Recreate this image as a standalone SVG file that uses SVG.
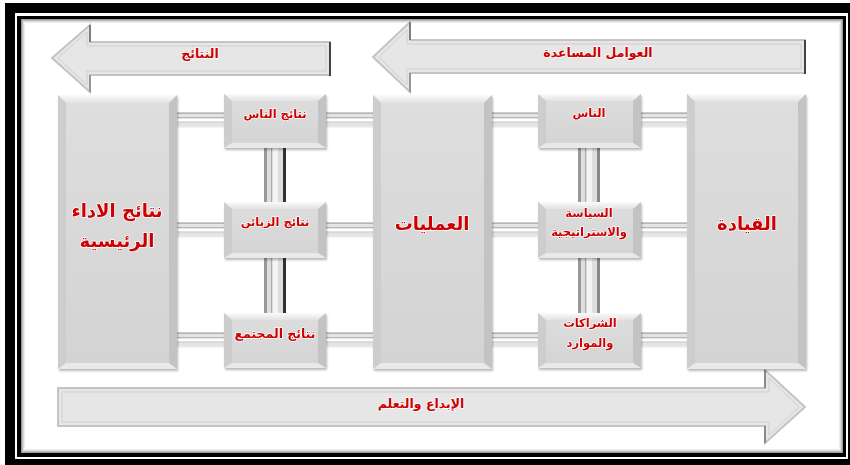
<svg xmlns="http://www.w3.org/2000/svg" width="850" height="465" viewBox="0 0 850 465">
<defs>
<linearGradient id="gFace" x1="0" y1="0" x2="0" y2="1"><stop offset="0" stop-color="#dedede"/><stop offset="1" stop-color="#d3d3d3"/></linearGradient>
<linearGradient id="gTop" x1="0" y1="0" x2="0" y2="1"><stop offset="0" stop-color="#fbfbfb"/><stop offset="1" stop-color="#e2e2e2"/></linearGradient>
<filter id="sh" x="-10%" y="-10%" width="130%" height="130%"><feDropShadow dx="1" dy="2" stdDeviation="1.2" flood-color="#000" flood-opacity="0.28"/></filter>
<style>
.face{fill:url(#gFace)}
.bt{fill:url(#gTop)}
.bl{fill:#cdcdcd}
.br{fill:#c3c3c3}
.bb{fill:#e9e9e9}
.lbl{font-family:"DejaVu Sans",sans-serif;font-weight:bold;fill:#cc0000;text-anchor:middle;dominant-baseline:central;stroke:#ffffff;stroke-width:1.4;paint-order:stroke;stroke-linejoin:round}
.big{font-size:18px}
.sm{font-size:11.5px}
.al{font-size:12.5px}
.arr{fill:#e6e6e6;stroke:#c4c4c4;stroke-width:2}
.arrIn{fill:none;stroke:#cfcfcf;stroke-width:1}
.hb{fill:#e4e4e4}
.hl{fill:#b5b5b5}
.hw{fill:#ffffff}
</style>
</defs>
<!-- frame -->
<rect x="5" y="3" width="845" height="462" fill="#000"/>
<rect x="15" y="13" width="833" height="446" fill="#fff"/>
<rect x="17" y="16" width="829" height="441" fill="#000"/>
<rect x="21" y="19" width="822" height="434" fill="#fff"/>
<rect x="21.5" y="19.5" width="821" height="433" fill="none" stroke="#9a9a9a" stroke-width="1"/>
<rect x="22.5" y="20.5" width="819" height="431" fill="none" stroke="#bdbdbd" stroke-width="1"/>
<rect x="23.5" y="21.5" width="817" height="429" fill="none" stroke="#dadada" stroke-width="1"/>
<rect x="24.5" y="22.5" width="815" height="427" fill="none" stroke="#eeeeee" stroke-width="1"/>

<!-- arrows -->
<g id="arrow_results">
<polygon class="arr" points="52,58 90,25 90,42 330,42 330,75 90,75 90,92"/>
<polygon class="arrIn" points="58,58 87,32 87,46 326,46 326,71 87,71 87,85"/>
<line x1="330" y1="42" x2="330" y2="76" stroke="#444" stroke-width="2"/>
<line x1="90" y1="25" x2="90" y2="42" stroke="#666" stroke-width="1.5"/>
<line x1="90" y1="75" x2="90" y2="92" stroke="#888" stroke-width="1.5"/>
<text class="lbl al" x="200" y="53">النتائج</text>
</g>
<g id="arrow_enablers">
<polygon class="arr" points="373,57 410,22 410,40 805,40 805,73 410,73 410,92"/>
<polygon class="arrIn" points="379,57 407,30 407,44 801,44 801,69 407,69 407,85"/>
<line x1="805" y1="40" x2="805" y2="74" stroke="#444" stroke-width="2"/>
<line x1="410" y1="22" x2="410" y2="40" stroke="#666" stroke-width="1.5"/>
<line x1="410" y1="73" x2="410" y2="92" stroke="#888" stroke-width="1.5"/>
<text class="lbl al" x="598" y="52">العوامل المساعدة</text>
</g>
<g id="arrow_innovation">
<polygon class="arr" points="58,388 765,388 765,370 805,407 765,443 765,426 58,426"/>
<polygon class="arrIn" points="62,392 769,392 769,378 799,407 769,435 769,422 62,422"/>
<line x1="765" y1="370" x2="765" y2="388" stroke="#777" stroke-width="1.5"/>
<line x1="765" y1="426" x2="765" y2="443" stroke="#777" stroke-width="1.5"/>
<text class="lbl al" x="421" y="403">الإبداع والتعلم</text>
</g>

<!-- connectors -->
<g id="connectors">
<g id="h1"><rect class="hb" x="177" y="112" width="510" height="16"/><rect class="hl" x="177" y="112.5" width="510" height="1.5"/><rect class="hl" x="177" y="117" width="510" height="1.5"/><rect class="hw" x="177" y="118.5" width="510" height="3"/><rect fill="#d0d0d0" x="177" y="121.5" width="510" height="1.2"/><rect fill="#f2f2f2" x="177" y="126.5" width="510" height="1.5"/></g>
<g id="h2"><rect class="hb" x="177" y="222" width="510" height="16"/><rect class="hl" x="177" y="222.5" width="510" height="1.5"/><rect class="hl" x="177" y="227" width="510" height="1.5"/><rect class="hw" x="177" y="228.5" width="510" height="3"/><rect fill="#d0d0d0" x="177" y="231.5" width="510" height="1.2"/><rect fill="#f2f2f2" x="177" y="236.5" width="510" height="1.5"/></g>
<g id="h3"><rect class="hb" x="177" y="332" width="510" height="16"/><rect class="hl" x="177" y="332.5" width="510" height="1.5"/><rect class="hl" x="177" y="337" width="510" height="1.5"/><rect class="hw" x="177" y="338.5" width="510" height="3"/><rect fill="#d0d0d0" x="177" y="341.5" width="510" height="1.2"/><rect fill="#f2f2f2" x="177" y="346.5" width="510" height="1.5"/></g>
<g id="v1"><rect x="264" y="148" width="22" height="165" fill="#dedede"/><rect x="264" y="148" width="3" height="165" fill="#999"/><rect x="271" y="148" width="1.5" height="165" fill="#aaa"/><rect x="272.5" y="148" width="5.5" height="165" fill="#f4f4f4"/><rect x="283" y="148" width="3" height="165" fill="#333"/></g>
<g id="v2"><rect x="578" y="148" width="22" height="165" fill="#dedede"/><rect x="578" y="148" width="3" height="165" fill="#999"/><rect x="585" y="148" width="1.5" height="165" fill="#aaa"/><rect x="586.5" y="148" width="5.5" height="165" fill="#f4f4f4"/><rect x="597" y="148" width="3" height="165" fill="#888"/></g>
</g>

<!-- big boxes -->
<g id="kpr" filter="url(#sh)">
<rect class="face" x="58" y="95" width="119" height="274"/>
<polygon class="bt" points="58,95 177,95 169,103 66,103"/>
<polygon class="bl" points="58,95 66,103 66,363 58,369"/>
<polygon class="br" points="177,95 177,369 169,363 169,103"/>
<polygon class="bb" points="58,369 66,363 169,363 177,369"/>
<text class="lbl big" x="117" y="210">نتائج الاداء</text>
<text class="lbl big" x="117" y="240">الرئيسية</text>
</g>
<g id="processes" filter="url(#sh)">
<rect class="face" x="373" y="95" width="119" height="274"/>
<polygon class="bt" points="373,95 492,95 484,103 381,103"/>
<polygon class="bl" points="373,95 381,103 381,363 373,369"/>
<polygon class="br" points="492,95 492,369 484,363 484,103"/>
<polygon class="bb" points="373,369 381,363 484,363 492,369"/>
<text class="lbl big" x="432" y="223">العمليات</text>
</g>
<g id="leadership" filter="url(#sh)">
<rect class="face" x="687" y="94" width="119" height="275"/>
<polygon class="bt" points="687,94 806,94 798,102 695,102"/>
<polygon class="bl" points="687,94 695,102 695,363 687,369"/>
<polygon class="br" points="806,94 806,369 798,363 798,102"/>
<polygon class="bb" points="687,369 695,363 798,363 806,369"/>
<text class="lbl big" x="747" y="223">القيادة</text>
</g>

<!-- small boxes left -->
<g id="people_results" filter="url(#sh)">
<rect class="face" x="224" y="94" width="102" height="54"/>
<polygon class="bt" points="224,94 326,94 318,101 232,101"/>
<polygon class="bl" points="224,94 232,101 232,143 224,148"/>
<polygon class="br" points="326,94 326,148 318,143 318,101"/>
<polygon class="bb" points="224,148 232,143 318,143 326,148"/>
<text class="lbl sm" x="275" y="114">نتائج الناس</text>
</g>
<g id="customer_results" filter="url(#sh)">
<rect class="face" x="224" y="202" width="102" height="56"/>
<polygon class="bt" points="224,202 326,202 318,209 232,209"/>
<polygon class="bl" points="224,202 232,209 232,253 224,258"/>
<polygon class="br" points="326,202 326,258 318,253 318,209"/>
<polygon class="bb" points="224,258 232,253 318,253 326,258"/>
<text class="lbl sm" x="275" y="222">نتائج الزبائن</text>
</g>
<g id="society_results" filter="url(#sh)">
<rect class="face" x="224" y="313" width="102" height="55"/>
<polygon class="bt" points="224,313 326,313 318,320 232,320"/>
<polygon class="bl" points="224,313 232,320 232,363 224,368"/>
<polygon class="br" points="326,313 326,368 318,363 318,320"/>
<polygon class="bb" points="224,368 232,363 318,363 326,368"/>
<text class="lbl" x="275" y="333" font-size="12.5">نتائج المجتمع</text>
</g>

<!-- small boxes right -->
<g id="people" filter="url(#sh)">
<rect class="face" x="538" y="94" width="103" height="54"/>
<polygon class="bt" points="538,94 641,94 633,101 546,101"/>
<polygon class="bl" points="538,94 546,101 546,143 538,148"/>
<polygon class="br" points="641,94 641,148 633,143 633,101"/>
<polygon class="bb" points="538,148 546,143 633,143 641,148"/>
<text class="lbl sm" x="589" y="113">الناس</text>
</g>
<g id="policy" filter="url(#sh)">
<rect class="face" x="538" y="202" width="103" height="56"/>
<polygon class="bt" points="538,202 641,202 633,209 546,209"/>
<polygon class="bl" points="538,202 546,209 546,253 538,258"/>
<polygon class="br" points="641,202 641,258 633,253 633,209"/>
<polygon class="bb" points="538,258 546,253 633,253 641,258"/>
<text class="lbl sm" x="589" y="213">السياسة</text>
<text class="lbl sm" x="589" y="232">والاستراتيجية</text>
</g>
<g id="partnerships" filter="url(#sh)">
<rect class="face" x="538" y="313" width="103" height="55"/>
<polygon class="bt" points="538,313 641,313 633,320 546,320"/>
<polygon class="bl" points="538,313 546,320 546,363 538,368"/>
<polygon class="br" points="641,313 641,368 633,363 633,320"/>
<polygon class="bb" points="538,368 546,363 633,363 641,368"/>
<text class="lbl sm" x="590" y="323">الشراكات</text>
<text class="lbl sm" x="590" y="343">والموارد</text>
</g>
</svg>
